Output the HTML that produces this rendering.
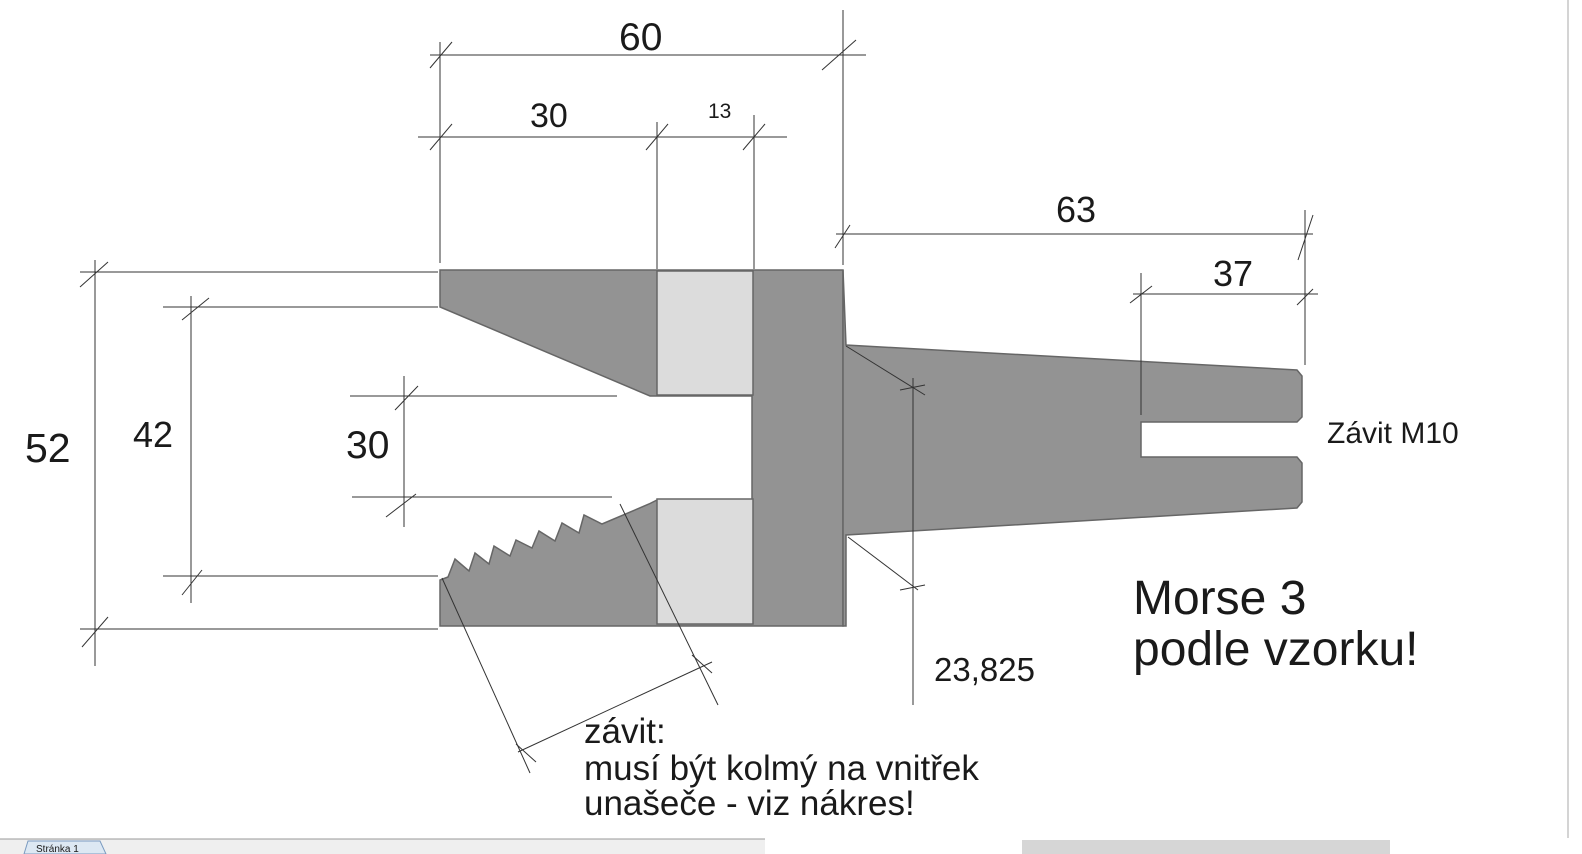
<!DOCTYPE html>
<html><head><meta charset="utf-8"><style>
html,body{margin:0;padding:0;background:#fff;width:1582px;height:854px;overflow:hidden}
svg{display:block}
text{font-family:"Liberation Sans",Arial,sans-serif;fill:#1a1a1a}
</style></head><body>
<svg width="1582" height="854" viewBox="0 0 1582 854" xmlns="http://www.w3.org/2000/svg">
<g fill="#939393" stroke="#666" stroke-width="1.5">
<polygon points="440,270 843,270 843,626 440,626 440,580 448,577 455,559 469,571 475,553 489,564 494,546 510,556 516,540 532,548 539,531 555,541 562,523 579,533 584,515 602,524 649,504 657,500 752,500 752,396 650,396 440,307"/>
<polygon points="843,270 846,345 1297,370 1302,376 1302,417 1297,422 1141,422 1141,457 1297,457 1302,463 1302,502 1297,508 846,535 846,626 843,626"/>
</g>
<g fill="#dcdcdc" stroke="#666" stroke-width="1.5">
<rect x="657" y="271" width="96" height="124"/>
<rect x="657" y="499" width="96" height="125"/>
</g>
<g stroke="#333" stroke-width="1" fill="none">
<line x1="430" y1="55" x2="866" y2="55"/>
<line x1="440" y1="42" x2="440" y2="263"/>
<line x1="843" y1="10" x2="843" y2="265"/>
<line x1="430" y1="68" x2="452" y2="42"/>
<line x1="822" y1="70" x2="856" y2="40"/>
<line x1="418" y1="137" x2="787" y2="137"/>
<line x1="657" y1="122" x2="657" y2="269"/>
<line x1="754" y1="115" x2="754" y2="269"/>
<line x1="430" y1="150" x2="452" y2="124"/>
<line x1="646" y1="150" x2="668" y2="124"/>
<line x1="743" y1="150" x2="765" y2="124"/>
<line x1="836" y1="234" x2="1313" y2="234"/>
<line x1="1305" y1="210" x2="1305" y2="365"/>
<line x1="835" y1="248" x2="850" y2="225"/>
<line x1="1298" y1="260" x2="1313" y2="215"/>
<line x1="1133" y1="294" x2="1318" y2="294"/>
<line x1="1141" y1="273" x2="1141" y2="415"/>
<line x1="1130" y1="303" x2="1152" y2="286"/>
<line x1="1297" y1="305" x2="1313" y2="289"/>
<line x1="95" y1="260" x2="95" y2="666"/>
<line x1="80" y1="272" x2="438" y2="272"/>
<line x1="80" y1="629" x2="438" y2="629"/>
<line x1="80" y1="287" x2="108" y2="262"/>
<line x1="82" y1="647" x2="108" y2="617"/>
<line x1="191" y1="296" x2="191" y2="603"/>
<line x1="163" y1="307" x2="438" y2="307"/>
<line x1="163" y1="576" x2="438" y2="576"/>
<line x1="182" y1="320" x2="209" y2="298"/>
<line x1="182" y1="595" x2="202" y2="570"/>
<line x1="404" y1="376" x2="404" y2="527"/>
<line x1="350" y1="396" x2="617" y2="396"/>
<line x1="352" y1="497" x2="612" y2="497"/>
<line x1="395" y1="410" x2="418" y2="386"/>
<line x1="386" y1="517" x2="416" y2="494"/>
<line x1="442" y1="578" x2="530" y2="773"/>
<line x1="620" y1="504" x2="718" y2="705"/>
<line x1="518" y1="752" x2="712" y2="662"/>
<line x1="516" y1="744" x2="536" y2="762"/>
<line x1="692" y1="655" x2="712" y2="673"/>
<line x1="846" y1="346" x2="925" y2="395"/>
<line x1="913" y1="378" x2="913" y2="705"/>
<line x1="848" y1="537" x2="918" y2="590"/>
<line x1="900" y1="390" x2="925" y2="385"/>
<line x1="900" y1="590" x2="925" y2="585"/>
<line x1="1568" y1="0" x2="1568" y2="838" stroke="#aaa"/>
</g>
<text x="619" y="50" font-size="39">60</text>
<text x="530" y="127" font-size="34">30</text>
<text x="708" y="118" font-size="21">13</text>
<text x="1056" y="222" font-size="36">63</text>
<text x="1213" y="286" font-size="36">37</text>
<text x="25" y="462" font-size="41">52</text>
<text x="133" y="447" font-size="36">42</text>
<text x="346" y="458" font-size="39">30</text>
<text x="1327" y="443" font-size="30">Závit M10</text>
<text x="1133" y="614" font-size="48">Morse 3</text>
<text x="1133" y="665" font-size="48">podle vzorku!</text>
<text x="934" y="681" font-size="33">23,825</text>
<text x="584" y="743" font-size="35">závit:</text>
<text x="584" y="780" font-size="35">musí být kolmý na vnitřek</text>
<text x="584" y="815" font-size="35">unašeče - viz nákres!</text>
<rect x="0" y="839" width="765" height="15" fill="#efefef"/>
<line x1="0" y1="839" x2="765" y2="839" stroke="#999"/>
<rect x="1022" y="840" width="368" height="14" fill="#d6d6d6"/>
<polygon points="24,854 28,841 100,841 106,854" fill="#dde8f3" stroke="#7a9ac0"/>
<text x="36" y="852" font-size="10">Stránka 1</text>
</svg>
</body></html>
